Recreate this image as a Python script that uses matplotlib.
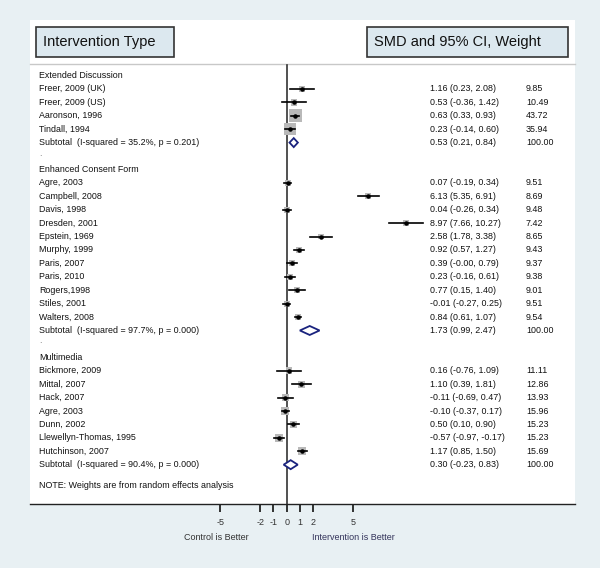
import matplotlib
matplotlib.use("Agg")
import matplotlib.pyplot as plt
from matplotlib.patches import Rectangle, Polygon
import numpy as np

plt.rcParams['font.family'] = ['Liberation Sans', 'DejaVu Sans']

# ---------------- data ----------------
groups = ["Extended Discussion", "Enhanced Consent Form", "Multimedia"]

ext_studies = ["Freer, 2009 (UK)", "Freer, 2009 (US)", "Aaronson, 1996", "Tindall, 1994"]
ext_smd = [1.16, 0.53, 0.63, 0.23]
ext_lo = [0.23, -0.36, 0.33, -0.14]
ext_hi = [2.08, 1.42, 0.93, 0.60]
ext_w = [9.85, 10.49, 43.72, 35.94]
ext_sub = (0.53, 0.21, 0.84)
ext_het = "Subtotal  (I-squared = 35.2%, p = 0.201)"

ecf_studies = ["Agre, 2003", "Campbell, 2008", "Davis, 1998", "Dresden, 2001", "Epstein, 1969",
               "Murphy, 1999", "Paris, 2007", "Paris, 2010", "Rogers,1998", "Stiles, 2001", "Walters, 2008"]
ecf_smd = [0.07, 6.13, 0.04, 8.97, 2.58, 0.92, 0.39, 0.23, 0.77, -0.01, 0.84]
ecf_lo = [-0.19, 5.35, -0.26, 7.66, 1.78, 0.57, -0.00, -0.16, 0.15, -0.27, 0.61]
ecf_hi = [0.34, 6.91, 0.34, 10.27, 3.38, 1.27, 0.79, 0.61, 1.40, 0.25, 1.07]
ecf_w = [9.51, 8.69, 9.48, 7.42, 8.65, 9.43, 9.37, 9.38, 9.01, 9.51, 9.54]
ecf_sub = (1.73, 0.99, 2.47)
ecf_het = "Subtotal  (I-squared = 97.7%, p = 0.000)"

mm_studies = ["Bickmore, 2009", "Mittal, 2007", "Hack, 2007", "Agre, 2003", "Dunn, 2002",
              "Llewellyn-Thomas, 1995", "Hutchinson, 2007"]
mm_smd = [0.16, 1.10, -0.11, -0.10, 0.50, -0.57, 1.17]
mm_lo = [-0.76, 0.39, -0.69, -0.37, 0.10, -0.97, 0.85]
mm_hi = [1.09, 1.81, 0.47, 0.17, 0.90, -0.17, 1.50]
mm_w = [11.11, 12.86, 13.93, 15.96, 15.23, 15.23, 15.69]
mm_sub = (0.30, -0.23, 0.83)
mm_het = "Subtotal  (I-squared = 90.4%, p = 0.000)"

tick_vals = [-5, -2, -1, 0, 1, 2, 5]
tick_labels = ["-5", "-2", "-1", "0", "1", "2", "5"]

# ---------------- figure ----------------
W, H = 600, 568
fig = plt.figure(figsize=(6.0, 5.68), dpi=100)
bg = "#e8f0f3"
fig.patch.set_facecolor(bg)

# white panel in pixels
PL, PR, PT, PB = 30, 575, 20, 504
ax = fig.add_axes([PL / W, 1 - PB / H, (PR - PL) / W, (PB - PT) / H])
ax.set_facecolor("white")
zero_px = 286.7
scale = 13.3  # px per unit
ax.set_xlim((PL - zero_px) / scale, (PR - zero_px) / scale)
ax.set_ylim(PB, PT)  # y in pixel rows from top
for s in ["top", "left", "right"]:
    ax.spines[s].set_visible(False)
ax.spines["bottom"].set_linewidth(1.0)
ax.spines["bottom"].set_color("#222222")
ax.set_yticks([])
ax.set_xticks(tick_vals)
ax.set_xticklabels(tick_labels, fontsize=6.5, color="#333333")
ax.tick_params(axis="x", direction="out", length=6, width=1.3, pad=4, color="#222222")

def fx(px):
    return px / W

def fy(py):
    return 1 - py / H

# header boxes
def header_box(x0, y0, x1, y1, text):
    r = Rectangle((fx(x0), fy(y1)), fx(x1) - fx(x0), fy(y0) - fy(y1), transform=fig.transFigure,
                  facecolor="#dce8ef", edgecolor="#333333", linewidth=1.2, zorder=5)
    fig.patches.append(r)
    fig.text(fx(x0 + 7), fy((y0 + y1) / 2), text, fontsize=10.5, color="#111111",
             va="center", ha="left", zorder=6)

header_box(36, 27, 174, 57, "Intervention Type")
header_box(367, 27, 568, 57, "SMD and 95% CI, Weight")

# separator line
ax.plot([ax.get_xlim()[0], ax.get_xlim()[1]], [64, 64], color="#c8c8c8", lw=1.0, clip_on=False)

# zero line
ax.plot([0, 0], [65, PB], color="#333333", lw=1.2, zorder=2)

# rows
row0 = 75.5
step = 13.42
fs = 6.4
x_lab = 39
x_est = 430
x_wt = 526

def label(px, py, text, color="#111111"):
    fig.text(fx(px), fy(py), text, fontsize=fs, va="center", ha="left", color=color)

def study_row(py, name, m, lo, hi, w, wmax):
    label(x_lab, py, name)
    label(x_est, py, f"{m:.2f} ({lo:.2f}, {hi:.2f})")
    label(x_wt, py, f"{w:.2f}")
    side = 13.0 * np.sqrt(w / wmax)
    ax.scatter([m], [py], marker="s", s=(side * 0.72) ** 2, color="#b9b9b9", edgecolors="none", zorder=3)
    ax.plot([lo, hi], [py, py], color="black", lw=1.2, zorder=4)
    ax.scatter([m], [py], marker="o", s=5, color="black", zorder=5)

def subtotal_row(py, het, m, lo, hi):
    label(x_lab, py, het)
    label(x_est, py, f"{m:.2f} ({lo:.2f}, {hi:.2f})")
    label(x_wt, py, "100.00")
    hh = 4.5
    d = Polygon([[lo, py], [m, py - hh], [hi, py], [m, py + hh]], closed=True,
                facecolor="white", edgecolor="#1a237e", lw=1.3, zorder=5)
    ax.add_patch(d)

all_groups = [
    (groups[0], ext_studies, ext_smd, ext_lo, ext_hi, ext_w, ext_sub, ext_het),
    (groups[1], ecf_studies, ecf_smd, ecf_lo, ecf_hi, ecf_w, ecf_sub, ecf_het),
    (groups[2], mm_studies, mm_smd, mm_lo, mm_hi, mm_w, mm_sub, mm_het),
]
wmax = 43.72
i = 0
for gi, (gname, studies, smd, lo, hi, w, sub, het) in enumerate(all_groups):
    label(x_lab, row0 + i * step, gname)
    i += 1
    for k in range(len(studies)):
        study_row(row0 + i * step, studies[k], smd[k], lo[k], hi[k], w[k], wmax)
        i += 1
    subtotal_row(row0 + i * step, het, *sub)
    i += 1
    if gi < 2:
        label(x_lab, row0 + i * step - 3, ".", color="#888888")
    i += 1

label(x_lab, 485, "NOTE: Weights are from random effects analysis")

fig.text(fx(216), fy(538), "Control is Better", fontsize=6.5, ha="center", va="center", color="#333333")
fig.text(fx(353), fy(538), "Intervention is Better", fontsize=6.5, ha="center", va="center", color="#33335a")

fig.savefig("out.png", dpi=100, facecolor=bg)
